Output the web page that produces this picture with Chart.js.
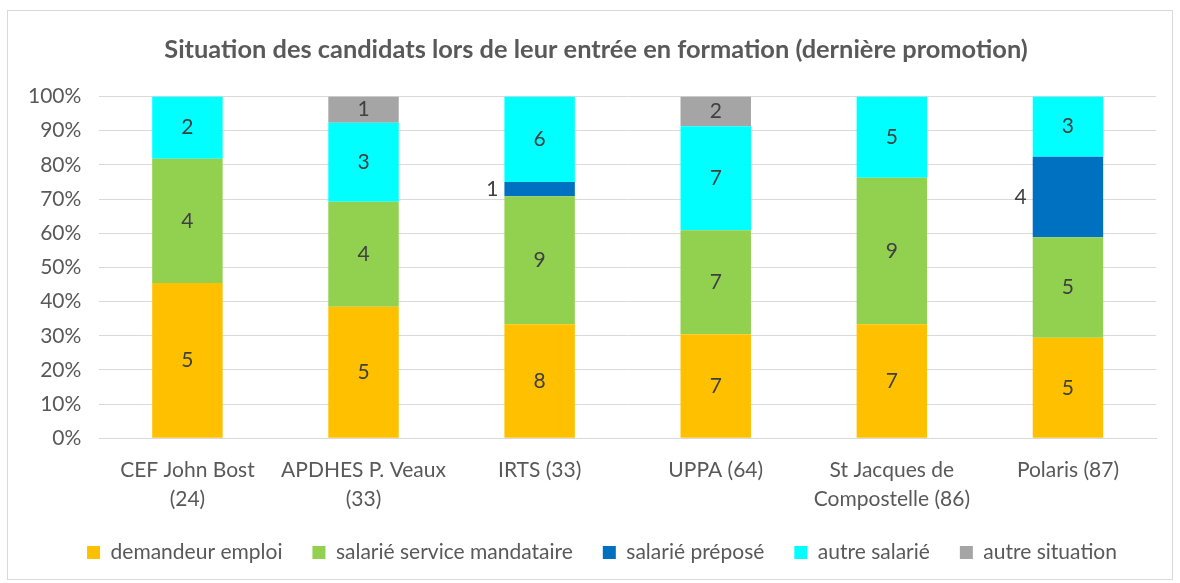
<!DOCTYPE html>
<html>
<head>
<meta charset="utf-8">
<script src="https://cdn.jsdelivr.net/npm/chart.js@4"></script>
<style>
  body { margin: 0; background: #fff; }
  #box {
    position: absolute; left: 7px; top: 10px;
    width: 1164px; height: 568px;
    border: 1px solid #d9d9d9;
  }
</style>
</head>
<body>
<div id="box"><canvas id="chart" width="1164" height="568"></canvas></div>
<script>
const categories = [
  ['CEF John Bost', '(24)'],
  ['APDHES P. Veaux', '(33)'],
  'IRTS (33)',
  'UPPA (64)',
  ['St Jacques de', 'Compostelle (86)'],
  'Polaris (87)',
];

// counts per situation, one value per site
const demandeurEmploi = [5, 5, 8, 7, 7, 5];
const salarieMandataire = [4, 4, 9, 7, 9, 5];
const salariePrepose = [0, 0, 1, 0, 0, 4];
const autreSalarie = [2, 3, 6, 7, 5, 3];
const autreSituation = [0, 1, 0, 2, 0, 0];

const yTicks = [0, 10, 20, 30, 40, 50, 60, 70, 80, 90, 100];

const series = [
  { label: 'demandeur emploi', counts: demandeurEmploi, color: '#FFC000' },
  { label: 'salarié service mandataire', counts: salarieMandataire, color: '#92D050' },
  { label: 'salarié préposé', counts: salariePrepose, color: '#0070C0' },
  { label: 'autre salarié', counts: autreSalarie, color: '#00FFFF' },
  { label: 'autre situation', counts: autreSituation, color: '#A5A5A5' },
];

const totals = categories.map((c, i) =>
  series.reduce((s, d) => s + d.counts[i], 0));

const FONT = 'Lato, "Open Sans", sans-serif';
const TEXT = '#595959';
const SIZE = 21;

// draws the counts on the segments, préposé to the left of the bar
const countLabels = {
  id: 'countLabels',
  afterDatasetsDraw(chart) {
    const ctx = chart.ctx;
    ctx.save();
    ctx.font = SIZE + 'px ' + FONT;
    ctx.fillStyle = '#404040';
    ctx.textBaseline = 'middle';
    chart.data.datasets.forEach((ds, di) => {
      const meta = chart.getDatasetMeta(di);
      meta.data.forEach((bar, i) => {
        const n = ds.counts[i];
        if (!n) return;
        const y = (bar.y + bar.base) / 2;
        if (di === 2) {
          ctx.textAlign = 'right';
          ctx.fillText(String(n), bar.x - bar.width / 2 - 6, y);
        } else {
          ctx.textAlign = 'center';
          ctx.fillText(String(n), bar.x, y);
        }
      });
    });
    ctx.restore();
  }
};

// nudge title and legend to the right, like the original
const shiftBlocks = {
  id: 'shiftBlocks',
  afterLayout(chart) {
    chart.legend.left += 19;
    chart.legend.right += 19;
    chart.titleBlock.left += 13;
    chart.titleBlock.right += 13;
  }
};

const data = {
  labels: categories,
  datasets: series.map(s => ({
    label: s.label,
    counts: s.counts,
    data: s.counts.map((v, i) => v / totals[i] * 100),
    backgroundColor: s.color,
    borderWidth: 0,
    categoryPercentage: 1,
    barPercentage: 0.4,
  })),
};

const config = {
  type: 'bar',
  data: data,
  plugins: [countLabels, shiftBlocks],
  options: {
    responsive: false,
    animation: false,
    layout: { padding: { left: 2, right: 16, top: 12, bottom: 6 } },
    plugins: {
      title: {
        display: true,
        text: 'Situation des candidats lors de leur entrée en formation (dernière promotion)',
        color: TEXT,
        font: { family: FONT, size: 25.4, weight: 'bold' },
        padding: { top: 12, bottom: 31 },
      },
      legend: {
        position: 'bottom',
        labels: {
          color: TEXT,
          font: { family: FONT, size: SIZE },
          boxWidth: 13,
          boxHeight: 13,
          padding: 30,
        },
      },
      tooltip: { enabled: false },
    },
    scales: {
      x: {
        stacked: true,
        grid: { display: false },
        border: { color: '#d9d9d9' },
        ticks: {
          color: TEXT,
          font: { family: FONT, size: SIZE, lineHeight: 1.35 },
          maxRotation: 0,
          autoSkip: false,
          padding: 10,
        },
        afterFit(scale) {
          scale.height -= 11;
        },
      },
      y: {
        stacked: true,
        min: 0,
        max: 100,
        afterBuildTicks(axis) {
          axis.ticks = yTicks.map(v => ({ value: v }));
        },
        grid: { color: '#d9d9d9', drawTicks: false },
        border: { display: false },
        ticks: {
          color: TEXT,
          font: { family: FONT, size: SIZE },
          padding: 18,
          callback: v => v + '%',
        },
      },
    },
  },
};

const chart = new Chart(document.getElementById('chart'), config);
</script>
</body>
</html>
